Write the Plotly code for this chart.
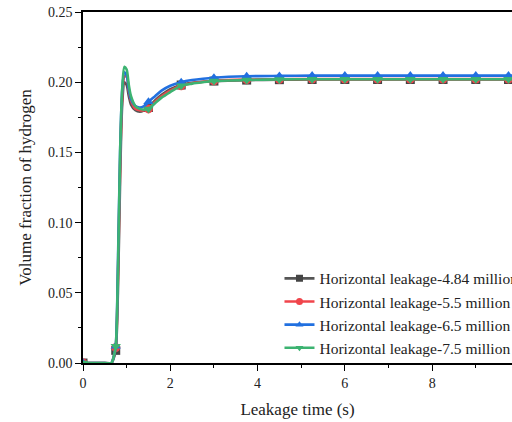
import plotly.graph_objects as go

# ---- data ----
time_s = [0, 0.25, 0.5, 0.65, 0.7, 0.75, 0.8, 0.85, 0.9, 0.95, 1.0, 1.05, 1.1, 1.2, 1.3,
          1.4, 1.5, 1.65, 1.8, 2.0, 2.25, 2.5, 2.75, 3.0, 3.75, 4.5, 5.25, 6.0, 6.75,
          7.5, 8.25, 9.0, 9.75, 10.0]

leak_484 = [0, 0, 0, 0, 0.003, 0.009, 0.05, 0.13, 0.185, 0.200, 0.198, 0.190, 0.184,
            0.180, 0.179, 0.180, 0.182, 0.187, 0.191, 0.195, 0.198, 0.1995, 0.2003,
            0.2008, 0.2015, 0.2018, 0.2019, 0.2019, 0.2019, 0.2019, 0.2019, 0.2019,
            0.2019, 0.2019]
leak_55 = [0, 0, 0, 0, 0.004, 0.011, 0.06, 0.14, 0.19, 0.204, 0.204, 0.194, 0.187,
           0.181, 0.180, 0.180, 0.181, 0.186, 0.190, 0.194, 0.1975, 0.1993, 0.2003,
           0.2010, 0.2018, 0.2021, 0.2022, 0.2022, 0.2022, 0.2022, 0.2022, 0.2022,
           0.2022, 0.2022]
leak_65 = [0, 0, 0, 0, 0.004, 0.012, 0.07, 0.15, 0.195, 0.207, 0.205, 0.195, 0.188,
           0.183, 0.182, 0.183, 0.186, 0.190, 0.194, 0.1975, 0.200, 0.2015, 0.2025,
           0.2032, 0.2042, 0.2045, 0.2047, 0.2047, 0.2047, 0.2047, 0.2047, 0.2047,
           0.2047, 0.2047]
leak_75 = [0, 0, 0, 0, 0.004, 0.012, 0.065, 0.15, 0.196, 0.211, 0.209, 0.198, 0.190,
           0.183, 0.181, 0.1805, 0.181, 0.185, 0.189, 0.193, 0.1975, 0.199, 0.200,
           0.2008, 0.2016, 0.2020, 0.2021, 0.2021, 0.2021, 0.2021, 0.2021, 0.2021,
           0.2021, 0.2021]

marker_step = 0.75
names = ["Horizontal leakage-4.84 million", "Horizontal leakage-5.5 million",
         "Horizontal leakage-6.5 million", "Horizontal leakage-7.5 million"]
series = [leak_484, leak_55, leak_65, leak_75]
line_colors = ["#555555", "#f0454b", "#2170e0", "#3cb371"]
marker_colors = ["#444444", "#f0454b", "#2170e0", "#3cb371"]
symbols = ["square", "circle", "triangle-up", "triangle-down"]

FONT = "Times New Roman, Liberation Serif, DejaVu Serif, serif"

fig = go.Figure()
for name, ys, lc, mc, sym in zip(names, series, line_colors, marker_colors, symbols):
    fig.add_trace(go.Scatter(x=time_s, y=ys, mode="lines",
                             line=dict(color=lc, width=2.6, shape="spline", smoothing=0.8),
                             showlegend=False, hoverinfo="skip"))
    keep = [abs(t / marker_step - round(t / marker_step)) < 1e-9 for t in time_s]
    mx = [t for t, k in zip(time_s, keep) if k]
    my = [v for v, k in zip(ys, keep) if k]
    fig.add_trace(go.Scatter(x=mx, y=my, mode="markers",
                             marker=dict(symbol=sym, size=9, color=mc),
                             showlegend=False))
    fig.add_trace(go.Scatter(x=[None], y=[None], mode="lines+markers", name=name,
                             line=dict(color=lc, width=2.6),
                             marker=dict(symbol=sym, size=7, color=mc)))

fig.update_layout(
    width=512, height=422,
    margin=dict(l=83, r=0, t=12, b=59, autoexpand=False),
    plot_bgcolor="white", paper_bgcolor="white",
    font=dict(family=FONT, size=14, color="#222222"),
    showlegend=True,
    legend=dict(x=0.458, y=-0.005, xanchor="left", yanchor="bottom",
                bgcolor="rgba(0,0,0,0)", font=dict(family=FONT, size=15.5, color="#222222"),
                tracegroupgap=0),
    xaxis=dict(range=[0, 9.83], tickvals=[0, 2, 4, 6, 8], ticks="outside", ticklen=6,
               tickwidth=1.2, tickcolor="black", showline=True, linecolor="black",
               linewidth=1.5, mirror=True, showgrid=False, zeroline=False,
               tickfont=dict(family=FONT, size=14),
               minor=dict(tickvals=[1, 3, 5, 7, 9], ticks="outside", ticklen=3,
                          tickcolor="black", tickwidth=1.2),
               title=dict(text="Leakage time (s)", font=dict(family=FONT, size=17), standoff=14)),
    yaxis=dict(range=[0, 0.25], tickvals=[0, 0.05, 0.10, 0.15, 0.20, 0.25],
               ticktext=["0.00", "0.05", "0.10", "0.15", "0.20", "0.25"],
               ticks="outside", ticklen=6, tickwidth=1.2, tickcolor="black",
               showline=True, linecolor="black", linewidth=1.5, mirror=False,
               showgrid=False, zeroline=False, tickfont=dict(family=FONT, size=14),
               minor=dict(tickvals=[0.025, 0.075, 0.125, 0.175, 0.225], ticks="outside",
                          ticklen=3, tickcolor="black", tickwidth=1.2),
               title=dict(text="Volume fraction of hydrogen", font=dict(family=FONT, size=17),
                          standoff=12)),
)

fig.write_html("out.html")
